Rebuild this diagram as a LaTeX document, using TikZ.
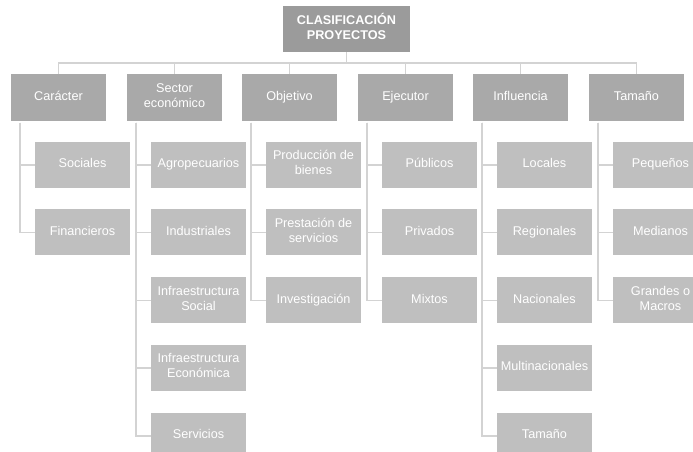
\documentclass[tikz,border=0pt]{standalone}
\usepackage{fontspec}
\setmainfont{Liberation Sans}
\definecolor{rootgray}{HTML}{9B9B9B}
\definecolor{catgray}{HTML}{A9A9A9}
\definecolor{itemgray}{HTML}{BFBFBF}
\definecolor{linkgray}{HTML}{D3D3D3}
\begin{document}
\begin{tikzpicture}[x=0.75pt,y=-0.75pt,
  boxbase/.style={anchor=center, inner sep=1pt, align=center, text=white,
    font=\fontsize{9.5}{11.25}\selectfont, minimum width=71.25pt,
    execute at begin node=\strut, execute at end node=\strut},
  rootbox/.style={boxbase, fill=rootgray, minimum height=34.5pt,
    font=\fontsize{9.5}{11.25}\selectfont\bfseries},
  catbox/.style={boxbase, fill=catgray, minimum height=35.25pt},
  itembox/.style={boxbase, fill=itemgray, minimum height=34.5pt},
  link/.style={draw=linkgray, line width=1.2pt}]
\useasboundingbox (0,0) rectangle (693,452);
\clip (0,0) rectangle (693,452);

% root
\node[rootbox, minimum width=95.25pt] (root) at (346.5,29) {CLASIFICACIÓN\\PROYECTOS};

% categories (left edges 11,127,242,358,473,589; width 95)
\node[catbox] (c1) at (58.5,97.5)  {Carácter};
\node[catbox] (c2) at (174.5,97.5) {Sector\\económico};
\node[catbox] (c3) at (289.5,97.5) {Objetivo};
\node[catbox] (c4) at (405.5,97.5) {Ejecutor};
\node[catbox] (c5) at (520.5,97.5) {Influencia};
\node[catbox] (c6) at (636.5,97.5) {Tamaño};

% items: rows centred at 165, 232.5, 300.5, 368, 436
\node[itembox] (c1-1) at (82.5,165)   {Sociales};
\node[itembox] (c1-2) at (82.5,232.5) {Financieros};

\node[itembox] (c2-1) at (198.5,165)   {Agropecuarios};
\node[itembox] (c2-2) at (198.5,232.5) {Industriales};
\node[itembox] (c2-3) at (198.5,300.5) {Infraestructura\\Social};
\node[itembox] (c2-4) at (198.5,368)   {Infraestructura\\Económica};
\node[itembox] (c2-5) at (198.5,436)   {Servicios};

\node[itembox] (c3-1) at (313.5,165)   {Producción de\\bienes};
\node[itembox] (c3-2) at (313.5,232.5) {Prestación de\\servicios};
\node[itembox] (c3-3) at (313.5,300.5) {Investigación};

\node[itembox] (c4-1) at (429.5,165)   {Públicos};
\node[itembox] (c4-2) at (429.5,232.5) {Privados};
\node[itembox] (c4-3) at (429.5,300.5) {Mixtos};

\node[itembox] (c5-1) at (544.5,165)   {Locales};
\node[itembox] (c5-2) at (544.5,232.5) {Regionales};
\node[itembox] (c5-3) at (544.5,300.5) {Nacionales};
\node[itembox] (c5-4) at (544.5,368)   {Multinacionales};
\node[itembox] (c5-5) at (544.5,436)   {Tamaño};

\node[itembox] (c6-1) at (660.5,165)   {Pequeños};
\node[itembox] (c6-2) at (660.5,232.5) {Medianos};
\node[itembox] (c6-3) at (660.5,300.5) {Grandes o\\Macros};

% root to categories
\foreach \c in {c1,c2,c3,c4,c5,c6}
  \draw[link] (root.south) -- ++(0,10.7) -| (\c.north);

% categories to items
\foreach \c/\n in {c1/2,c2/5,c3/3,c4/3,c5/5,c6/3}
  \foreach \i in {1,...,\n}
    \draw[link] ([xshift=6.75pt,yshift=-1pt]\c.south west) |- (\c-\i.west);
\end{tikzpicture}
\end{document}
